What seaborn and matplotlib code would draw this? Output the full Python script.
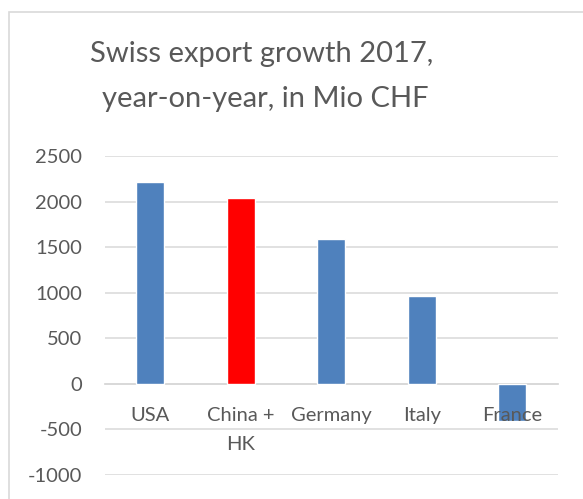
import pandas as pd
import seaborn as sns
import matplotlib.pyplot as plt
from matplotlib.patches import Rectangle

# data (Mio CHF)
countries = ["USA", "China +\nHK", "Germany", "Italy", "France"]
growth = [2210, 2040, 1585, 967, -410]
bar_colors = ["#4F81BD", "#FF0000", "#4F81BD", "#4F81BD", "#4F81BD"]
yticks = [-1000, -500, 0, 500, 1000, 1500, 2000, 2500]

TEXT = "#595959"
GRID = "#D9D9D9"


def set_config():
    sns.set_theme(style="white")
    plt.rcParams["font.family"] = ["Lato", "DejaVu Sans"]


def draw(df):
    fig = plt.figure(figsize=(5.83, 4.99), dpi=100)
    ax = fig.add_axes([0.180, 0.0481, 0.7766, 0.6393])

    # outer chart frame (cut off on the right and at the bottom)
    fig.patches.append(Rectangle((9 / 583, -0.1), 1.2, 1 - 12 / 499 + 0.1,
                                 transform=fig.transFigure, fill=False,
                                 edgecolor=GRID, linewidth=1.2, zorder=0))

    sns.barplot(data=df, x="country", y="growth", hue="country",
                palette=bar_colors, legend=False, width=0.31,
                saturation=1, ax=ax, zorder=3)

    ax.set_ylim(-1000, 2500)
    ax.set_xlim(-0.5, 4.5)
    ax.set_yticks(yticks)
    ax.set_yticklabels([str(t) for t in yticks])
    ax.yaxis.grid(True, color=GRID, linewidth=1.1)
    # grid behind the bars, category labels in front of them (France)
    ax.yaxis.set_zorder(0.5)
    ax.xaxis.set_zorder(4)

    for s in ["top", "right", "left"]:
        ax.spines[s].set_visible(False)
    ax.spines["bottom"].set_position(("data", 0))
    ax.spines["bottom"].set_color(GRID)
    ax.spines["bottom"].set_linewidth(1.3)
    ax.spines["bottom"].set_zorder(2)

    ax.tick_params(axis="y", length=0, pad=16.5, labelsize=14.5, labelcolor=TEXT)
    ax.tick_params(axis="x", length=0, pad=17, labelsize=14.5, labelcolor=TEXT)
    for lab in ax.get_xticklabels():
        lab.set_linespacing(1.8)
    ax.set_xlabel("")
    ax.set_ylabel("")

    fig.text(262 / 583, 1 - 62 / 499, "Swiss export growth 2017,",
             ha="center", va="baseline", fontsize=21, color=TEXT)
    fig.text(265 / 583, 1 - 107 / 499, "year-on-year, in Mio CHF",
             ha="center", va="baseline", fontsize=21, color=TEXT)

    fig.savefig("out.png", dpi=100, facecolor="white")


def main():
    set_config()
    df = pd.DataFrame({"country": countries, "growth": growth})
    draw(df)


if __name__ == "__main__":
    main()
